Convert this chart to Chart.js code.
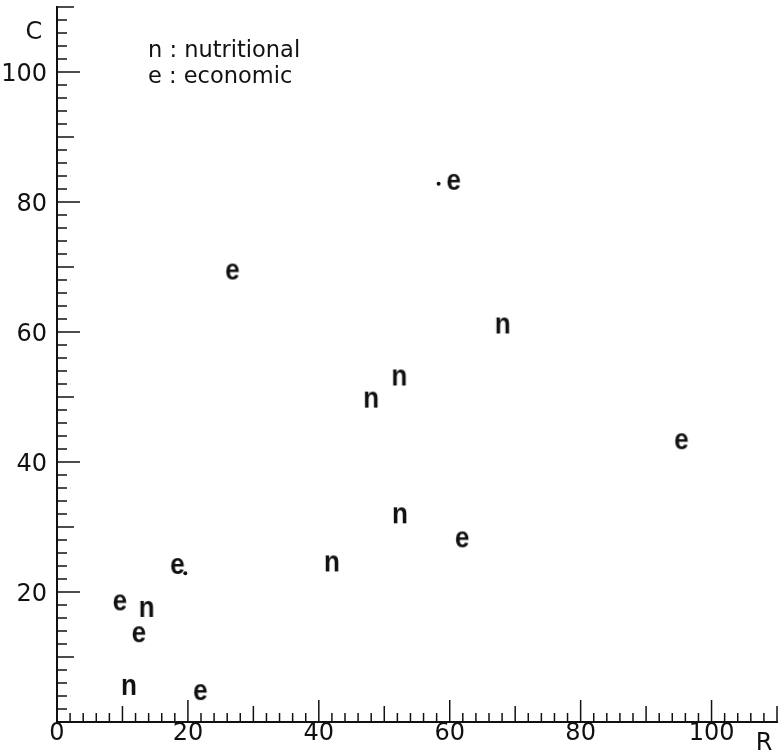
<!DOCTYPE html>
<html>
<head>
<meta charset="utf-8">
<script src="https://cdn.jsdelivr.net/npm/chart.js@4.4.1/dist/chart.umd.min.js"></script>
<style>
  html, body { margin: 0; padding: 0; background: #fff; }
  #grafico { display: block; }
</style>
</head>
<body>
<canvas id="grafico" width="782" height="754"></canvas>
<script>
// valores (R no eixo x, C no eixo y)
const nutricionalR = [68.1, 52.3, 48.0, 52.4, 42.0, 13.7, 11.0];
const nutricionalC = [61.0, 53.0, 49.6, 31.8, 24.4, 17.4, 5.4];

const economicoR = [26.8, 60.6, 95.4, 61.9, 18.4, 9.6, 12.5, 21.9];
const economicoC = [69.3, 83.1, 43.2, 28.1, 24.0, 18.4, 13.5, 4.6];

// pontinhos soltos que aparecem junto de dois "e"
const pontosR = [58.3, 19.6];
const pontosC = [82.8, 22.9];

const ticksLabels = [0, 20, 40, 60, 80, 100];
const legenda = ['n : nutritional', 'e : economic'];

const tinta = '#111';
const fonteTexto = '"DejaVu Sans", sans-serif';

function juntar(xs, ys) {
  let out = [];
  for (let i = 0; i < xs.length; i++) {
    out.push({ x: xs[i], y: ys[i] });
  }
  return out;
}

// desenha a letra num canvas pequeno pra usar como pointStyle
function marcadorLetra(letra) {
  let c = document.createElement('canvas');
  c.width = 30;
  c.height = 30;
  let g = c.getContext('2d');
  let tam = 29;
  g.fillStyle = tinta;
  g.font = 'bold ' + tam + 'px "Liberation Sans", Arial, sans-serif';
  g.textAlign = 'center';
  g.textBaseline = 'alphabetic';
  g.translate(15, 15);
  g.scale(0.9, 1);
  g.fillText(letra, 0, tam * 0.519 / 2);
  return c;
}

// ticks pra dentro + labels, tudo a partir das escalas do chart
const eixos = {
  id: 'eixos',
  afterDraw(chart) {
    const ctx = chart.ctx;
    const sx = chart.scales.x;
    const sy = chart.scales.y;
    const area = chart.chartArea;
    ctx.save();
    ctx.strokeStyle = tinta;
    ctx.lineWidth = 1.5;
    for (let v = 2; v <= 110; v += 2) {
      let comp = v % 20 == 0 ? 22 : (v % 10 == 0 ? 16 : 9);
      let px = sx.getPixelForValue(v);
      ctx.beginPath();
      ctx.moveTo(px, area.bottom);
      ctx.lineTo(px, area.bottom - comp);
      ctx.stroke();

      let compY = v % 20 == 0 ? 23 : (v % 10 == 0 ? 17 : 10);
      let py = sy.getPixelForValue(v);
      ctx.beginPath();
      ctx.moveTo(area.left, py);
      ctx.lineTo(area.left + compY, py);
      ctx.stroke();
    }

    ctx.fillStyle = tinta;
    ctx.font = '24px ' + fonteTexto;
    ctx.textBaseline = 'alphabetic';

    // labels do eixo x
    ctx.textAlign = 'center';
    for (const v of ticksLabels) {
      ctx.fillText(String(v), sx.getPixelForValue(v), area.bottom + 18);
    }
    // labels do eixo y (sem o zero)
    ctx.textAlign = 'right';
    for (const v of ticksLabels) {
      if (v == 0) continue;
      ctx.fillText(String(v), area.left - 10, sy.getPixelForValue(v) + 8.5);
    }

    // titulos dos eixos
    ctx.textAlign = 'center';
    ctx.fillText('R', 764, 750);
    ctx.fillText('C', 34, 39);

    // legenda em texto
    ctx.textAlign = 'left';
    ctx.font = '22.5px ' + fonteTexto;
    ctx.fillText(legenda[0], 148, 57);
    ctx.fillText(legenda[1], 148, 83);
    ctx.restore();
  }
};

new Chart(document.getElementById('grafico'), {
  type: 'scatter',
  data: {
    datasets: [
      {
        label: 'nutritional',
        data: juntar(nutricionalR, nutricionalC),
        pointStyle: marcadorLetra('n'),
        pointRadius: 15,
        pointHoverRadius: 15
      },
      {
        label: 'economic',
        data: juntar(economicoR, economicoC),
        pointStyle: marcadorLetra('e'),
        pointRadius: 15,
        pointHoverRadius: 15
      },
      {
        label: 'pontos',
        data: juntar(pontosR, pontosC),
        pointStyle: 'circle',
        pointRadius: 2,
        backgroundColor: tinta,
        borderColor: tinta,
        borderWidth: 0
      }
    ]
  },
  options: {
    responsive: false,
    animation: false,
    layout: { autoPadding: false, padding: { top: 7, right: 5, left: 0, bottom: 0 } },
    plugins: {
      legend: { display: false },
      tooltip: { enabled: false },
      title: { display: false }
    },
    scales: {
      x: {
        type: 'linear',
        min: 0,
        max: 110,
        grid: { display: false, drawTicks: false },
        border: { display: true, color: tinta, width: 2 },
        afterFit(scale) { scale.height = 32; },
        ticks: { display: false }
      },
      y: {
        type: 'linear',
        min: 0,
        max: 110,
        grid: { display: false, drawTicks: false },
        border: { display: true, color: tinta, width: 2 },
        afterFit(scale) { scale.width = 57; },
        ticks: { display: false }
      }
    }
  },
  plugins: [eixos]
});
</script>
</body>
</html>
